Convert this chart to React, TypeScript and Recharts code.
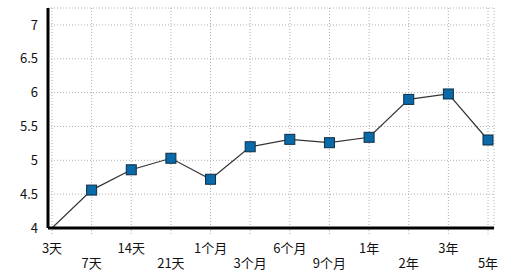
import React from 'react';
import { LineChart, Line, XAxis, YAxis, CartesianGrid } from 'recharts';

const categories = ['3天', '7天', '14天', '21天', '1个月', '3个月', '6个月', '9个月', '1年', '2年', '3年', '5年'];
const values = [4.0, 4.56, 4.86, 5.03, 4.72, 5.2, 5.31, 5.26, 5.34, 5.9, 5.98, 5.3];
const yTicks = [4, 4.5, 5, 5.5, 6, 6.5, 7];

const data = categories.map((c, i) => ({ name: c, value: values[i] }));

const FONT = '"Noto Sans CJK SC", "Noto Sans", sans-serif';

const XTick = (props: any) => {
  const { x, y, payload, index } = props;
  const off = index % 2 === 0 ? 17 : 32;
  return (
    <text x={x} y={y + off} textAnchor="middle" fontSize={13} fontFamily={FONT} fill="#111">
      {payload.value}
    </text>
  );
};

const SquareDot = (props: any) => {
  const { cx, cy, index } = props;
  if (index === 0 || cx == null || cy == null) return <g key={`d${index}`} />;
  return (
    <rect
      key={`d${index}`}
      x={cx - 5}
      y={cy - 5}
      width={10}
      height={10}
      fill="#0a6aa8"
      stroke="#0d2c44"
      strokeWidth={1}
    />
  );
};

export default function App() {
  return (
    <div style={{ position: 'absolute', left: 0, top: 0, width: 520, height: 279, background: '#fff' }}>
      <LineChart width={520} height={279} data={data} margin={{ top: 8, right: 26, left: 8, bottom: 11 }}>
        <CartesianGrid stroke="#b0b0b0" strokeDasharray="1 2" />
        <XAxis
          dataKey="name"
          type="category"
          padding={{ left: 4, right: 6 }}
          height={40}
          interval={0}
          tickSize={6}
          tickLine={{ stroke: '#b0b0b0', strokeDasharray: '1 2' }}
          axisLine={{ stroke: '#000', strokeWidth: 3 }}
          tick={<XTick />}
        />
        <XAxis
          xAxisId="top"
          orientation="top"
          dataKey="name"
          height={0}
          tick={false}
          tickLine={false}
          axisLine={{ stroke: '#333', strokeWidth: 1.5 }}
        />
        <YAxis
          domain={[4, 7.25]}
          ticks={yTicks}
          width={40}
          tickSize={8}
          tickMargin={2}
          tickLine={false}
          axisLine={{ stroke: '#000', strokeWidth: 3 }}
          tick={{ fontSize: 13, fontFamily: FONT, fill: '#111' }}
          allowDataOverflow
        />
        <YAxis
          yAxisId="right"
          orientation="right"
          domain={[4, 7.25]}
          width={0}
          tick={false}
          tickLine={false}
          axisLine={{ stroke: '#555', strokeWidth: 2 }}
        />
        <Line
          dataKey="value"
          stroke="#333"
          strokeWidth={1.2}
          dot={<SquareDot />}
          activeDot={false}
          isAnimationActive={false}
        />
      </LineChart>
    </div>
  );
}
